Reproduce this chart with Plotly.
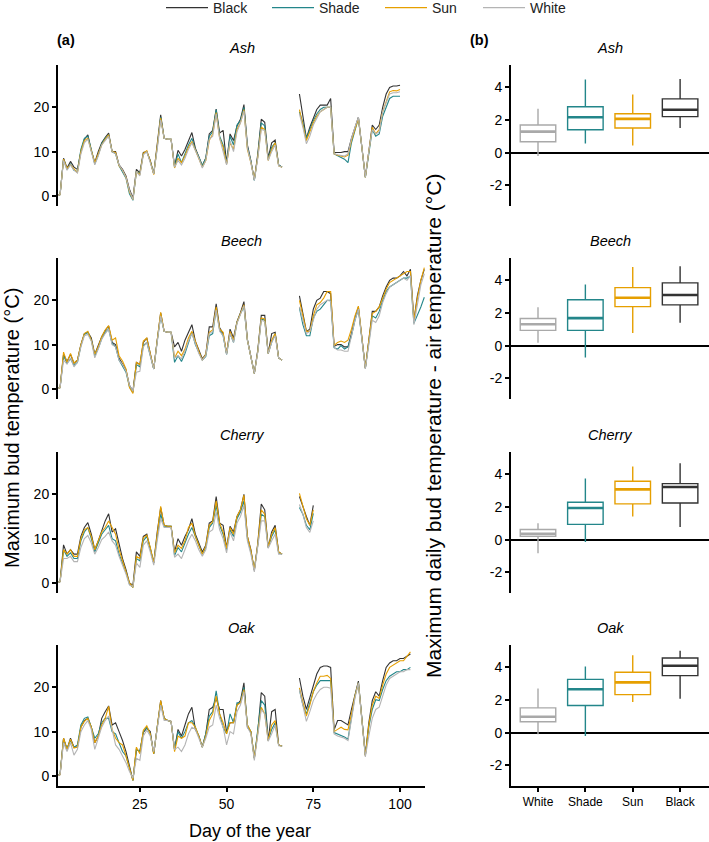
import plotly.graph_objects as go

W, H = 709, 842

SERIES = ["Black", "Shade", "Sun", "White"]
LINE_COLORS = {"Black": "#333333", "Shade": "#23868a", "Sun": "#e69f00", "White": "#b4b4b4"}
SPECIES = ["Ash", "Beech", "Cherry", "Oak"]

# ---- panel (a): daily maximum bud temperature, days 1-66 and 71-end ----
ash_early = {
    "Black": [0,0.3,8.5,6.3,7.8,6.5,6,10,12.8,13.8,10.2,7.5,10,12,13.2,14.2,10,10,7,6,4.5,1.5,-0.5,6,5.2,9.8,10,8,5,11,18.3,13,12.8,12.8,6.8,10.3,9,10.5,12.5,14.3,10.8,9,6.8,8.5,14,14.8,19.6,14.2,14.8,7.5,14,12.5,15.8,17.3,20.6,11.5,8,3.6,9.5,17.3,16.6,8.6,12,12.6,7,6.5],
    "Shade": [0,0.3,8.3,6,7.2,5.8,5.5,10.5,13,13.5,10.5,7.2,9.2,11.8,13,13.8,10,9.5,6.8,5.5,4,0.5,-1,5.5,5,9.5,10,7.8,5,11,17.8,13,12.8,12.8,6.5,9.5,7.5,9.5,11.5,13,10.5,8.8,6.8,8.5,13.5,14.5,19.5,13.5,11.5,7.3,13.5,11.5,16,17,20,11,7.8,3.5,9,16.5,15.8,8.2,11,12,7,6.5],
    "Sun":   [0,0.3,8.3,6.2,7,6,5.2,10,12.5,13,10.3,7.5,9.5,11.5,12.8,13.8,10,9.8,6.8,5.8,4.2,1,-0.8,5.5,4.8,9.6,10.2,7.8,4.8,10.8,17.6,13,12.8,12.8,6.3,8.5,7.5,9,11,12.3,10.5,8.5,6.5,8,12.5,14,18.8,13,11,7.2,12,10.5,15,16.5,19.5,10.5,7.5,3.8,8.8,15.5,15,8,10.5,12,6.8,6.5],
    "White": [0,0.3,8,5.8,7,5.8,5.2,9.5,12,12.8,10,7,9,11.5,12.5,13.5,10,9.5,7,5.8,4.2,1.2,-0.8,5.5,4.5,9.3,10,7.5,5,10.5,17.2,13,12.8,12.8,6.5,8,7,8.5,10.5,12,10.3,8.5,6.3,8,12.8,13.5,18.5,13,10,7,12.5,10,14.5,16.5,19.2,10.8,7.5,3.5,8.5,15,14.8,8,10,11.5,6.8,6.5],
}
ash_late = {
    "Black": [23,18,13,15.5,17.5,19.5,20.5,20.5,20.5,22,9.8,9.8,9.8,10,10,13,15.5,17.8,11,4.3,10,16,15,16,20,23,24.5,24.8,24.8,25],
    "Shade": [19,16.5,13,15,17,18.5,19.5,20,20,20,9.5,9,8.7,8.3,7.5,12,15,17.5,11,4.2,9.5,15,13.5,14,18,20,22,22.5,22.5,22.5],
    "Sun":   [19.5,16,12.5,14.5,16.5,18,19,19.5,20,20,9.5,9.2,9,8.8,9.2,12.5,15,17.5,11,4.2,10,15.5,14,15,19,21.5,23.5,23.8,23.7,24],
    "White": [18.5,15.5,11.8,13.5,16,17.5,19,19.5,20,20,9.5,9.3,9.2,9,9.5,13,15.5,17.8,11,4.2,10,15,14,14.5,19,21,23,23.3,23.3,23.5],
}
beech_early = {
    "Black": [0,0.3,7.8,6.2,7.8,5.8,6.5,10,12.5,12.8,11.5,7.8,9.8,11.8,13.2,14.2,10.5,10,7,5.8,4.3,0.8,-0.5,6,5.5,10.5,11.5,8,4.5,11,17.2,13,12.8,12.8,9.5,10.5,8.5,11,12.8,14.5,10.8,8.8,6.8,7.8,14,14,19.2,13.8,12.5,8,13.5,11.5,15.2,17.2,19.7,11.2,7,3.5,8.8,16.6,16.6,8,12.5,12.8,7,6.5],
    "Shade": [0,0.3,7.5,5.8,6.8,5.3,6,9.8,12.3,12.8,11,7.5,9.2,11.3,12.8,13.5,10.2,9.5,6.5,5,3.8,0.5,-0.8,5.5,5,9.8,10.5,7.5,4.5,10.8,16.5,13,12.8,12.8,6,7.5,6.2,8,10.5,12.8,10,8.3,6.5,7.3,12,12.5,18,13.3,12,7.8,12.5,10.5,15,17,18.5,11,7,3.5,8.5,15.8,15.5,8,10.5,12.5,7,6.5],
    "Sun":   [0,0.3,8.3,6,8,5.8,6.5,10,12.5,13,11,7.8,9.5,11.8,13.3,14.3,11,11.5,7.5,6.3,4.5,0.3,-1,6,5.5,10.8,11.5,8,4.5,11,17.3,13,12.8,12.8,7,8.5,7.5,9,11.5,13,10.5,8.5,6.5,7.8,12.8,13.3,18.5,13.5,12.8,8,13,11,15,17.2,19,11,7,3.5,8.5,16,15.8,8,11,12.5,7,6.5],
    "White": [0,0.3,6.5,5.6,7,5,6,9.5,12,12.3,10.8,7,9,11.2,12.5,13.5,10,9.5,6.5,5.5,4,0.8,-0.5,3.8,4,9.5,10.5,7.5,4.5,10.5,16.5,13,12.8,12.8,7,7.5,6.8,8.5,10.8,12.5,10,8,6.5,7.5,12.5,13,17.8,13,12,7.8,12.5,10.5,14.8,16.8,18.8,11,7,3.5,8.3,15.5,15.2,8,10.5,12,7,6.5],
}
beech_late = {
    "Black": [21,17,13,13.5,18,20,20.5,22,22,21.5,9.6,10,10,9.5,9.5,12.5,16,18.5,11.5,4.7,11,17.5,17.5,18.5,21,23,24.5,25,25,25.5,26.5,25.5,27,15.5,21,24.5,27],
    "Shade": [18.3,14.5,12,12,16,17.5,18,19,20,20,9.3,9,9.8,9,9.5,12,15.5,18,11,4.7,10.5,16.5,16,17.5,20,22,23,23.5,24,24.5,25,25,25.5,14.8,16.5,18.5,20.7],
    "Sun":   [20,16.5,13,13,16.5,19,19.5,20.5,22,22,9.8,10.5,10.8,10.5,11,13.5,16.5,18.7,11.5,4.7,11,17,17.5,18.5,20.5,22.5,24,24.5,25,25.5,26,26.5,26.5,15.5,20.5,24.5,27.4],
    "White": [18.5,15.5,12.5,13,15.5,18,19,19.5,20,19.8,9.3,8.8,8.8,8.5,8.5,12,15.5,18,11,4.5,10,15.5,15,16.5,19.5,21.5,23,23.5,24,24.5,25,24.5,25.5,14.5,19.5,23.5,26],
}
cherry_early = {
    "Black": [0,0.3,8.6,6.5,7.5,6.5,6.5,10.5,12.5,13.6,11,7.5,9.5,12,14,15.6,11.5,12.2,8.5,5.5,3,0,-0.5,7,6,10.5,11,8,4.5,11.5,17,13,12.8,12.8,7,10,8.5,10.5,12,14.5,11,9,7,8.5,13.5,14,19.5,13.5,13,8,12.8,11.5,15,16.5,20,10.5,7.5,2.8,9,17.8,16.5,8,11.5,13,7,6.5],
    "Shade": [0,0.3,7.5,6,6.8,5.5,5.5,9.5,11.5,12.5,10,7,9,11,12,13,10,9.5,6.5,4.5,2.5,-0.3,-1,5.5,5,9.5,10.5,7.8,4.5,10.5,15.5,12.8,12.8,12.8,6.2,8,7,9,11,12.5,10.3,8.5,6.5,8,12.5,13.5,17.5,13,11,7.5,12,10.5,14.5,16,18.5,10,7,3,8.5,15.5,15,8,10.5,12,6.8,6.5],
    "Sun":   [0,0.3,7.5,6.5,7.5,6,6,10,12,12.5,10.5,7.5,9.5,11.5,12.5,14,12.5,11,7.5,5,3,0,-1,6,5.5,10.2,10.8,8,4.5,11,17.3,13,12.8,12.8,6.8,8.5,7.8,9.5,12.5,13.5,10.5,8.5,6.5,8.3,13,13.8,18.5,13.5,11.5,7.8,12.5,11,15,16.5,19.8,10.5,7.3,3,8.8,16.5,15.5,8,11,12.5,7,6.5],
    "White": [0,0.3,5.5,5.5,6,4.8,4.8,8,10,10.7,9,6.5,8,9.8,10.5,11.5,9.5,8.5,6,4,2,-0.5,-0.8,4.5,3.5,8.5,9.5,7,4,9.5,14.5,12.5,12.5,12.5,5.8,6.5,5.5,7.5,9.5,11,9.5,7.5,6,7.5,11.5,12,16,12,10,6.8,11.5,9.5,13.5,15,17.5,9.5,6.5,2.5,8,14,14,7.8,9.5,11,6.5,6.5],
}
cherry_late = {
    "Black": [19.5,17,15,13,17.5],
    "Shade": [17,15.5,13,12,15.7],
    "Sun":   [20.2,17.5,14.5,13,16.5],
    "White": [17.7,15.5,12.5,11.4,14],
}
oak_early = {
    "Black": [0,0.3,8.5,6,8.5,6.5,6.5,11,12.5,13,11,7.5,9,13,14.5,15.8,11.5,12,10,8,5.5,2,-1,6,5.5,9.8,10.8,10,5,11,17,13,12.5,12.3,6,10.5,9,11.5,14,15.5,10.5,9,6.5,9.5,15,15.5,17.5,15,15,10,12,12,16,17,21,11,10,4,10,18.8,18,8,14.5,15,7,6.7],
    "Shade": [0,0.5,8.3,6.2,8,6.5,7,11.5,13,13.3,11,8.5,9.5,12,13,13,10,9.5,7.5,5.5,4.5,2,-1,6,5.5,10,11,9.5,5,11,16.5,13,12.5,12.3,6,10,8.5,10,12,12.5,11,9,6.5,9.5,13.5,14.5,19.2,14,11,9.5,14,12,16.5,16.5,20,11.5,10,4,10,17,16,8,10.5,12,7,6.7],
    "Sun":   [0,0.3,8.5,6,8.3,6.3,6.5,11,12.3,13,11,7.5,9,11.5,13,15.7,10.5,8.5,7.5,7,4.5,1.8,-1,6.5,5,10.3,11.3,9.5,5,11,17,13,12.5,12.3,5.5,9,8.5,9,12,12,11,9,6.5,9,12.5,14,18,14,12,9.5,12,12,16,16.5,19.5,11.5,10,4,10,15.5,14,8,11.5,12.5,7,6.7],
    "White": [0,0.3,7.5,5.5,7.5,4.7,6,10,11.5,12.5,10.5,6,8.5,11,12.5,13.5,10.5,7,6,4.5,3,1,-0.5,4,3.5,9,10.3,9,5.5,10.5,16,12.5,12.5,12.3,6,6.5,5.5,7,9.5,11,10.5,8.5,6.5,8.5,11,11.5,16,13,11,7,10,9.5,14.5,16,19,11,9.5,3.5,9.5,15,14,7.8,9.5,11.5,6.8,6.7],
}
oak_late = {
    "Black": [22.1,18,15,17.5,20.5,23,24.5,24.8,24.8,24.5,10.4,12.5,12.5,12,11.5,15,18.5,21.4,13,4.7,12,17,19,18,21.5,24.5,25.5,26,26,26.5,26.5,27,27.5],
    "Shade": [19.5,16,14,16.5,19,20.5,21.5,21.5,21.5,21.5,9.8,9.5,9.2,8.8,8.3,13.5,18,21,13,4.7,11,15,17.2,17,19.5,21.5,22.5,23,23.5,23.5,24,24,24.5],
    "Sun":   [19.9,16.5,13.5,16,19,21,22.5,22.5,22.7,22,10,10.5,11,10.5,10.4,14,18,21,13,4.5,11.5,16,18,17.5,20.5,23,24.5,25,25.5,26,26,27,28],
    "White": [19.5,15.5,12.3,14.5,17,18.5,19.5,20,20,19.8,9.5,9,8.8,8.5,8,13,17.5,21,12.5,4.3,9,13,15,15.5,18,20.5,22,22.5,23,23.5,23.5,24,24],
}
EARLY = {"Ash": ash_early, "Beech": beech_early, "Cherry": cherry_early, "Oak": oak_early}
LATE = {"Ash": ash_late, "Beech": beech_late, "Cherry": cherry_late, "Oak": oak_late}
EARLY_START_DAY = 1
LATE_START_DAY = 71

# ---- panel (b): box statistics of daily max bud temp - air temp ----
BOX_CATS = ["White", "Shade", "Sun", "Black"]
BOX_COLORS = {"White": "#a9a9a9", "Shade": "#23868a", "Sun": "#e69f00", "Black": "#333333"}
# [lowerfence, q1, median, q3, upperfence]
box_stats = {
    "Ash":    {"White": [-0.2, 0.66, 1.28, 1.69, 2.68], "Shade": [0.56, 1.4, 2.16, 2.8, 4.47],
               "Sun": [0.43, 1.5, 2.06, 2.37, 3.55], "Black": [1.5, 2.2, 2.62, 3.28, 4.5]},
    "Beech":  {"White": [0.17, 0.93, 1.3, 1.66, 2.34], "Shade": [-0.73, 0.93, 1.68, 2.8, 3.73],
               "Sun": [0.77, 2.38, 2.92, 3.54, 4.8], "Black": [1.39, 2.49, 3.09, 3.83, 4.85]},
    "Cherry": {"White": [-0.83, 0.2, 0.35, 0.62, 1.0], "Shade": [-0.15, 0.93, 1.93, 2.28, 3.73],
               "Sun": [1.41, 2.18, 3.07, 3.56, 4.46], "Black": [0.77, 2.24, 3.21, 3.42, 4.66]},
    "Oak":    {"White": [-0.1, 0.66, 0.97, 1.51, 2.69], "Shade": [-0.2, 1.66, 2.65, 3.25, 4.04],
               "Sun": [1.87, 2.32, 3.07, 3.69, 4.73], "Black": [2.07, 3.48, 4.08, 4.56, 5.0]},
}
BOX_WIDTH = 0.75

LEFT_TICKS = [0, 10, 20]
RIGHT_TICKS = [-2, 0, 2, 4]
RIGHT_TICK_TEXT = ["-2", "0", "2", "4"]
DAY_TICKS = [25, 50, 75, 100]

# ---- layout geometry (pixels) ----
def px(x):
    return x / W

def py(y):
    return 1 - y / H

PANEL_TOPS = [65, 258, 452, 645]
PANEL_H = 141
LEFT_X = (58, 425)
RIGHT_X = (511, 709)
LEGEND_LINE_START = {"Black": 166, "Shade": 272, "Sun": 385, "White": 483}
LEGEND_KEYS = {"Black": "legend", "Shade": "legend2", "Sun": "legend3", "White": "legend4"}

fig = go.Figure()
FONT = "Liberation Sans, Arial, sans-serif"
layout = dict(
    width=W, height=H, autosize=False,
    margin=dict(l=0, r=0, t=0, b=0, autoexpand=False),
    paper_bgcolor="white", plot_bgcolor="white",
    font=dict(family=FONT, size=13, color="black"),
    showlegend=True,
)
for s in SERIES:
    layout[LEGEND_KEYS[s]] = dict(
        orientation="h", x=px(LEGEND_LINE_START[s] - 5), xanchor="left",
        y=py(-8), yanchor="top", font=dict(size=14, color="#222222"),
        itemwidth=42, bgcolor="rgba(0,0,0,0)", borderwidth=0)

annotations = []
for i, sp in enumerate(SPECIES):
    top = PANEL_TOPS[i]
    bottom = top + PANEL_H
    li = 2 * i + 1
    ri = 2 * i + 2
    lx = "x" if li == 1 else f"x{li}"
    ly = "y" if li == 1 else f"y{li}"
    rx = f"x{ri}"
    ry = f"y{ri}"
    last = (i == len(SPECIES) - 1)

    # left line panel
    for s in SERIES:
        early = EARLY[sp][s]
        late = LATE[sp][s]
        xs = list(range(EARLY_START_DAY, EARLY_START_DAY + len(early))) + [None] + \
             list(range(LATE_START_DAY, LATE_START_DAY + len(late)))
        ys = early + [None] + late
        fig.add_trace(go.Scatter(
            x=xs, y=ys, mode="lines", name=s, legendgroup=s, legend=LEGEND_KEYS[s],
            showlegend=(i == 0), connectgaps=False,
            line=dict(color=LINE_COLORS[s], width=1.1),
            xaxis=lx, yaxis=ly, hoverinfo="skip"))

    # right box panel
    for k, c in enumerate(BOX_CATS):
        lo, q1, med, q3, hi = box_stats[sp][c]
        fig.add_trace(go.Box(
            x=[k + 1], q1=[q1], median=[med], q3=[q3], lowerfence=[lo], upperfence=[hi],
            width=BOX_WIDTH, whiskerwidth=0, boxpoints=False,
            line=dict(color=BOX_COLORS[c], width=1.4), fillcolor="rgba(255,255,255,0)",
            showlegend=False, xaxis=rx, yaxis=ry, hoverinfo="skip"))
        # thicker median bar, as drawn by ggplot
        fig.add_trace(go.Scatter(
            x=[k + 1 - BOX_WIDTH / 2, k + 1 + BOX_WIDTH / 2], y=[med, med], mode="lines",
            line=dict(color=BOX_COLORS[c], width=2.6), showlegend=False,
            xaxis=rx, yaxis=ry, hoverinfo="skip"))

    ydom = [py(bottom), py(top)]
    lxkey = "xaxis" if li == 1 else f"xaxis{li}"
    lykey = "yaxis" if li == 1 else f"yaxis{li}"
    layout[lxkey] = dict(
        domain=[px(LEFT_X[0]), px(LEFT_X[1])], anchor=ly, range=[1.4, 107.2],
        showgrid=False, zeroline=False,
        showline=last, linecolor="black", linewidth=2,
        ticks="outside" if last else "", ticklen=4, tickwidth=1.5, tickcolor="black",
        tickvals=DAY_TICKS, showticklabels=last, tickfont=dict(size=14),
    )
    layout[lykey] = dict(
        domain=ydom, anchor=lx, range=[-2.27, 29.55],
        showgrid=False, zeroline=False, showline=True, linecolor="black", linewidth=2,
        ticks="outside", ticklen=4, tickwidth=1.5, tickcolor="black",
        tickvals=LEFT_TICKS, tickfont=dict(size=14),
    )
    layout[f"xaxis{ri}"] = dict(
        domain=[px(RIGHT_X[0]), px(RIGHT_X[1])], anchor=ry, range=[0.43, 4.61],
        showgrid=False, zeroline=False,
        showline=last, linecolor="black", linewidth=2,
        ticks="outside" if last else "", ticklen=4, tickwidth=1.5, tickcolor="black",
        tickvals=[1, 2, 3, 4], ticktext=BOX_CATS, showticklabels=last,
        tickfont=dict(size=12),
    )
    layout[f"yaxis{ri}"] = dict(
        domain=ydom, anchor=rx, range=[-3.26, 5.35],
        showgrid=False, zeroline=True, zerolinecolor="black", zerolinewidth=2,
        showline=True, linecolor="black", linewidth=2,
        ticks="outside", ticklen=4, tickwidth=1.5, tickcolor="black",
        tickvals=RIGHT_TICKS, ticktext=RIGHT_TICK_TEXT, tickfont=dict(size=14),
    )

    # facet titles
    for (x0, x1) in (LEFT_X, RIGHT_X):
        annotations.append(dict(text=f"<i>{sp}</i>", x=px((x0 + x1) / 2), y=py(top - 17),
                                xref="paper", yref="paper", showarrow=False,
                                font=dict(size=14.5), xanchor="center", yanchor="middle"))

annotations += [
    dict(text="<b>(a)</b>", x=px(55), y=py(40), xref="paper", yref="paper", showarrow=False,
         font=dict(size=14.5), xanchor="left", yanchor="middle"),
    dict(text="<b>(b)</b>", x=px(468), y=py(40), xref="paper", yref="paper", showarrow=False,
         font=dict(size=14.5), xanchor="left", yanchor="middle"),
    dict(text="Day of the year", x=px(250), y=py(831), xref="paper", yref="paper",
         showarrow=False, font=dict(size=18), xanchor="center", yanchor="middle"),
    dict(text="Maximum bud temperature (°C)", x=px(12), y=py(428), xref="paper", yref="paper",
         showarrow=False, font=dict(size=20), textangle=-90, xanchor="center", yanchor="middle"),
    dict(text="Maximum daily bud temperature - air temperature (°C)", x=px(433), y=py(426),
         xref="paper", yref="paper", showarrow=False, font=dict(size=21), textangle=-90,
         xanchor="center", yanchor="middle"),
]
layout["annotations"] = annotations
fig.update_layout(**layout)
fig.write_html("out.html", config={"displayModeBar": False},
               post_script="document.body.style.margin='0px';")
